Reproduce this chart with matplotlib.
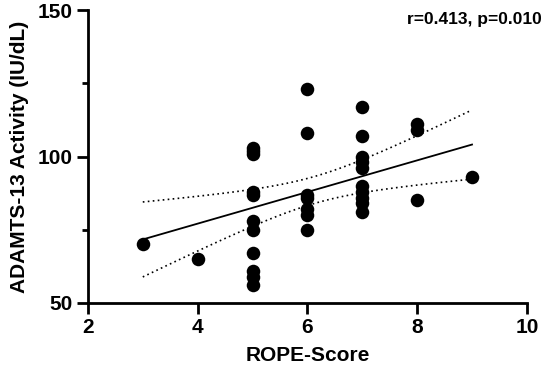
import numpy as np
import matplotlib
matplotlib.use('Agg')
import matplotlib.pyplot as plt
from matplotlib.ticker import MultipleLocator

plt.rcParams['font.family'] = ['Liberation Sans', 'DejaVu Sans']
plt.rcParams['font.weight'] = 'bold'

# ROPE score vs ADAMTS-13 activity
rope = [3, 4,
        5, 5, 5, 5, 5, 5, 5, 5, 5, 5, 5,
        6, 6, 6, 6, 6, 6, 6,
        7, 7, 7, 7, 7, 7, 7, 7, 7, 7,
        8, 8, 8,
        9]
adamts = [70, 65,
          103, 102, 101, 88, 87, 78, 75, 67, 61, 59, 56,
          123, 108, 87, 86, 82, 80, 75,
          117, 107, 100, 98, 96, 90, 88, 86, 84, 81,
          111, 109, 85,
          93]
stats_text = 'r=0.413, p=0.010'

# regression line and 95% band as drawn in the figure
fit_x = [3, 9]
fit_y = [71.7, 104.1]
band_halfwidth = [12.8, 4.6, 11.8]   # at x = 3, centre, 9
band_centre = 6.14

x = np.array(rope, dtype=float)
y = np.array(adamts, dtype=float)

slope = (fit_y[1] - fit_y[0]) / (fit_x[1] - fit_x[0])
intercept = fit_y[0] - slope * fit_x[0]
xs = np.linspace(fit_x[0], fit_x[1], 100)
ys = slope * xs + intercept
a = band_halfwidth[1] ** 2
b = (band_halfwidth[0] ** 2 - a) / (fit_x[0] - band_centre) ** 2
hw = np.sqrt(a + b * (xs - band_centre) ** 2)

fig = plt.figure(figsize=(5.46, 3.75), dpi=100)
ax = fig.add_axes([0.161, 0.192, 0.804, 0.781])

ax.scatter(x, y, s=95, color='black', zorder=3, linewidths=0)
ax.plot(xs, ys, color='black', lw=1.3)
ax.plot(xs, ys + hw, color='black', lw=1.2, ls=(0, (1, 2)))
ax.plot(xs, ys - hw, color='black', lw=1.2, ls=(0, (1, 2)))

ax.set_xlim(2, 10)
ax.set_ylim(50, 150)
ax.set_xticks([2, 4, 6, 8, 10])
ax.set_yticks([50, 100, 150])
ax.yaxis.set_minor_locator(MultipleLocator(25))

for side in ['top', 'right']:
    ax.spines[side].set_visible(False)
for side in ['left', 'bottom']:
    ax.spines[side].set_linewidth(2)
ax.tick_params(which='major', length=8, width=2, labelsize=15, pad=3)
ax.tick_params(which='minor', length=4.5, width=2)
for lab in ax.get_xticklabels() + ax.get_yticklabels():
    lab.set_fontweight('bold')

ax.set_xlabel('ROPE-Score', fontsize=15, fontweight='bold', labelpad=6)
ax.set_ylabel('ADAMTS-13 Activity (IU/dL)', fontsize=15, fontweight='bold', labelpad=6)
fig.text(0.993, 0.935, stats_text, ha='right', va='baseline',
         fontsize=12.5, fontweight='bold')

plt.savefig('out.png', dpi=100)
